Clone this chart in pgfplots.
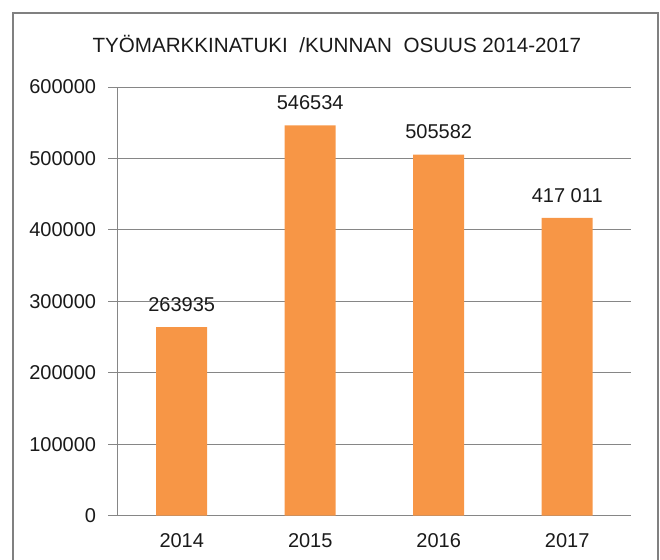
\documentclass[border=0pt]{standalone}
\usepackage{fontspec}
\setmainfont{Liberation Sans}
\usepackage{pgfplots}
\pgfplotsset{compat=1.18}
\definecolor{barorange}{HTML}{F79646}
\definecolor{gridgray}{HTML}{868686}
\definecolor{framegray}{HTML}{808080}
\definecolor{txt}{HTML}{1A1A1A}
\begin{document}
\fontsize{10pt}{12pt}\selectfont
\begin{tikzpicture}
\path[use as bounding box] (0,0) rectangle (330pt,279.5pt);
\begin{scope}
\clip (0,0) rectangle (330pt,279.5pt);
\draw[framegray, line width=1pt] (6.5pt,-5pt) rectangle (329pt,273pt);
\end{scope}
\node[txt, anchor=center, inner sep=0pt, font=\fontsize{10.3pt}{12pt}\selectfont] at (168.4pt,257.5pt) {TYÖMARKKINATUKI\ \ /KUNNAN\ \ OSUUS 2014-2017};
\begin{axis}[
  at={(58.75pt,21.65pt)}, anchor=south west,
  scale only axis, width=257pt, height=214.3pt,
  xmin=-0.5, xmax=3.5, ymin=0, ymax=600000,
  axis x line=bottom, axis y line=left,
  axis line style={gridgray, line width=0.5pt, -},
  xtick={0,1,2,3}, xticklabels={2014,2015,2016,2017},
  xtick style={draw=none},
  scaled y ticks=false,
  ytick={0,100000,200000,300000,400000,500000,600000},
  yticklabels={0,100000,200000,300000,400000,500000,600000},
  ytick style={gridgray, line width=0.5pt},
  tick align=outside, major tick length=4.5pt,
  ymajorgrids, grid style={gridgray, line width=0.5pt},
  /pgf/number format/assume math mode=true,
  ticklabel style={txt, font=\fontsize{10pt}{12pt}\selectfont},
  yticklabel style={anchor=east, inner sep=0pt, xshift=-6pt},
  xticklabel style={anchor=north, inner sep=0pt, yshift=-4pt},
  clip=false,
]
\addplot[ybar, bar width=25.5pt, fill=barorange, draw=none,
  point meta=explicit symbolic,
  nodes near coords,
  every node near coord/.append style={txt, anchor=south, inner sep=0pt, yshift=7.5pt, font=\fontsize{10pt}{12pt}\selectfont}]
  coordinates {(0,263935) [263935] (1,546534) [546534] (2,505582) [505582] (3,417011) [417 011]};
\end{axis}
\end{tikzpicture}
\end{document}
